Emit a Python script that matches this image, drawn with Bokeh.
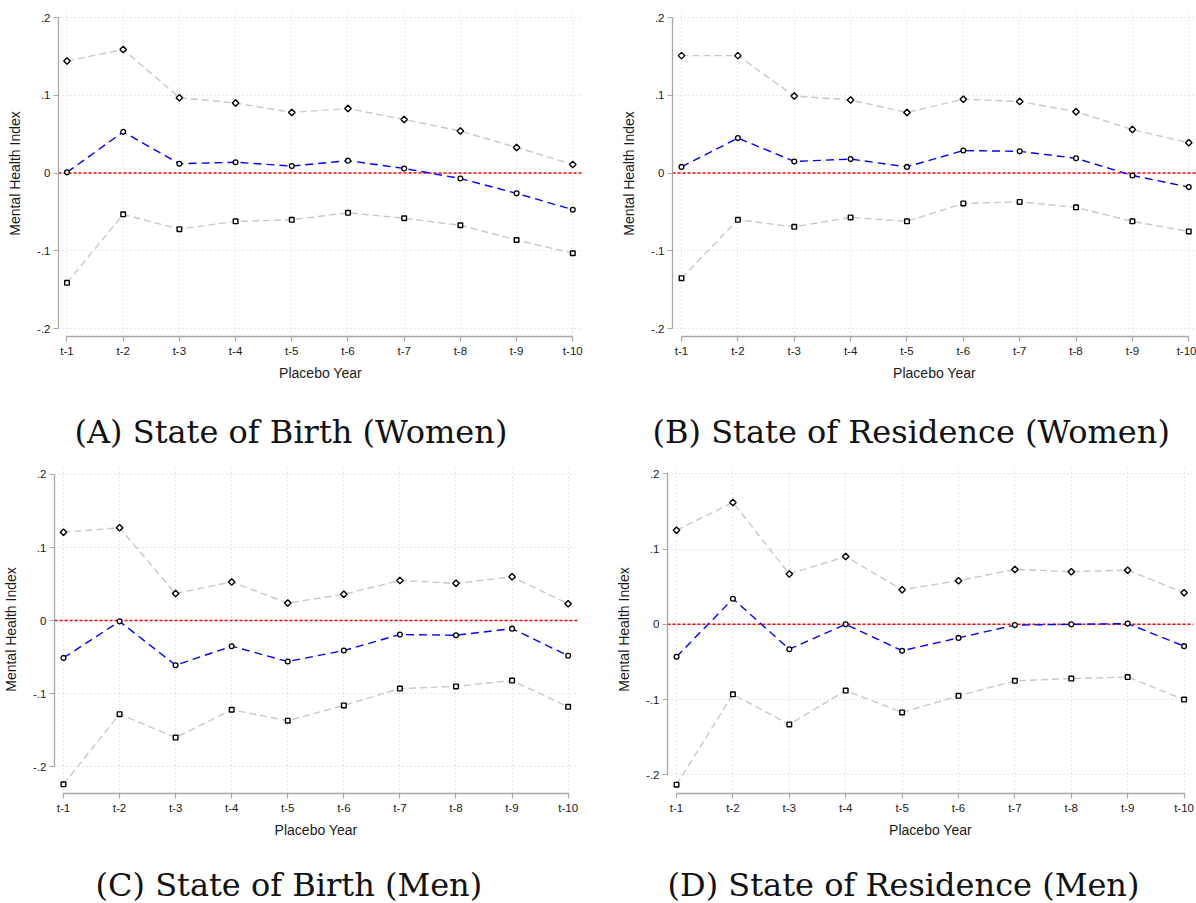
from bokeh.plotting import figure
from bokeh.layouts import column, row
from bokeh.models import Range1d, FixedTicker, Span
from bokeh.core.properties import value
from bokeh.embed import file_html
from bokeh.resources import INLINE

# ---------------- data ----------------
periods = ["t-1", "t-2", "t-3", "t-4", "t-5", "t-6", "t-7", "t-8", "t-9", "t-10"]
x_pos = [1, 2, 3, 4, 5, 6, 7, 8, 9, 10]
y_ticks = [-0.2, -0.1, 0.0, 0.1, 0.2]
y_tick_labels = ["-.2", "-.1", "0", ".1", ".2"]

# (A) State of Birth (Women)
a_upper = [0.144, 0.159, 0.097, 0.090, 0.078, 0.083, 0.069, 0.054, 0.033, 0.011]
a_point = [0.001, 0.053, 0.012, 0.014, 0.009, 0.016, 0.006, -0.007, -0.026, -0.047]
a_lower = [-0.141, -0.053, -0.072, -0.062, -0.060, -0.051, -0.058, -0.067, -0.086, -0.103]

# (B) State of Residence (Women)
b_upper = [0.151, 0.151, 0.099, 0.094, 0.078, 0.095, 0.092, 0.079, 0.056, 0.039]
b_point = [0.008, 0.045, 0.015, 0.018, 0.008, 0.029, 0.028, 0.019, -0.003, -0.018]
b_lower = [-0.135, -0.060, -0.069, -0.057, -0.062, -0.039, -0.037, -0.044, -0.062, -0.075]

# (C) State of Birth (Men)
c_upper = [0.121, 0.127, 0.037, 0.053, 0.024, 0.036, 0.055, 0.051, 0.060, 0.023]
c_point = [-0.051, -0.001, -0.061, -0.035, -0.056, -0.041, -0.019, -0.020, -0.011, -0.048]
c_lower = [-0.224, -0.128, -0.160, -0.122, -0.137, -0.116, -0.093, -0.090, -0.082, -0.118]

# (D) State of Residence (Men)
d_upper = [0.125, 0.162, 0.067, 0.090, 0.046, 0.058, 0.073, 0.070, 0.072, 0.042]
d_point = [-0.043, 0.034, -0.033, 0.000, -0.035, -0.018, -0.001, 0.000, 0.001, -0.029]
d_lower = [-0.213, -0.093, -0.133, -0.088, -0.117, -0.095, -0.075, -0.072, -0.070, -0.100]

titles = ["(A) State of Birth (Women)", "(B) State of Residence (Women)",
          "(C) State of Birth (Men)", "(D) State of Residence (Men)"]

AXIS_GRAY = "#a8a8a8"
CI_GRAY = "#c8c8c8"
SANS = "Liberation Sans"


def make_panel(upper, point, lower, xr, yr, width, height, bl, br, bt, bb):
    p = figure(width=width, height=height,
               x_range=Range1d(*xr), y_range=Range1d(*yr),
               output_backend="svg", toolbar_location=None,
               min_border_left=bl, min_border_right=br,
               min_border_top=bt, min_border_bottom=bb,
               background_fill_color="white", border_fill_color="white")
    p.outline_line_color = None

    p.xaxis.ticker = FixedTicker(ticks=x_pos)
    p.xaxis.major_label_overrides = {x: lab for x, lab in zip(x_pos, periods)}
    p.xaxis.bounds = (x_pos[0], x_pos[-1])
    p.xaxis.axis_label = "Placebo Year"
    p.yaxis.ticker = FixedTicker(ticks=y_ticks)
    p.yaxis.major_label_overrides = {y: lab for y, lab in zip(y_ticks, y_tick_labels)}
    p.yaxis.bounds = (y_ticks[0], y_ticks[-1])
    p.yaxis.axis_label = "Mental Health Index"
    for ax in (p.xaxis, p.yaxis):
        ax.axis_line_color = AXIS_GRAY
        ax.axis_line_width = 1.3
        ax.major_tick_line_color = AXIS_GRAY
        ax.major_tick_line_width = 1.2
        ax.major_tick_out = 5
        ax.major_tick_in = 0
        ax.minor_tick_line_color = None
        ax.major_label_text_font = SANS
        ax.major_label_text_font_size = "11.5px"
        ax.major_label_text_color = "#1a1a1a"
        ax.axis_label_text_font = SANS
        ax.axis_label_text_font_size = "14px"
        ax.axis_label_text_font_style = "normal"
        ax.axis_label_text_color = "#1a1a1a"
    p.xaxis.major_label_standoff = 3
    p.xaxis.axis_label_standoff = 5
    p.yaxis.major_label_standoff = 3
    p.yaxis.axis_label_standoff = 11

    p.grid.grid_line_color = "#cccccc"
    p.grid.grid_line_dash = "1 3"
    p.grid.grid_line_width = 1

    p.add_layout(Span(location=0, dimension="width", line_color="red",
                      line_dash="3 2", line_width=1.5, level="underlay"))

    p.line(x_pos, upper, line_color=CI_GRAY, line_dash="7 4", line_width=1.4)
    p.line(x_pos, lower, line_color=CI_GRAY, line_dash="7 4", line_width=1.4)
    p.line(x_pos, point, line_color="blue", line_dash="8 5", line_width=1.4)

    p.scatter(x_pos, upper, marker="square", angle=0.7853981634, size=4.6,
              fill_color="white", line_color="black", line_width=1.4)
    p.scatter(x_pos, lower, marker="square", size=4.6,
              fill_color="white", line_color="black", line_width=1.4)
    p.scatter(x_pos, point, marker="circle", size=4.8,
              fill_color="white", line_color="black", line_width=1.3)
    return p


def make_title(text, width, height, tx, ty):
    t = figure(width=width, height=height, x_range=Range1d(0, width),
               y_range=Range1d(0, height), output_backend="svg",
               toolbar_location=None, min_border=0,
               background_fill_color="white", border_fill_color="white")
    t.outline_line_color = None
    t.axis.visible = False
    t.grid.visible = False
    t.text(x=[tx], y=[ty], text=[text], text_align="left",
           text_baseline="alphabetic", text_font=value("DejaVu Serif"),
           text_font_size=value("32px"), text_color="#111111")
    return t


pA = make_panel(a_upper, a_point, a_lower, (0.849, 10.173), (-0.210, 0.209),
                600, 390, 58, 18, 10, 54)
pB = make_panel(b_upper, b_point, b_lower, (0.840, 10.137), (-0.210, 0.209),
                596, 390, 72, 0, 10, 54)
pC = make_panel(c_upper, c_point, c_lower, (0.840, 10.167), (-0.2366, 0.2123),
                600, 392, 53, 23, 10, 54)
pD = make_panel(d_upper, d_point, d_lower, (0.840, 10.167), (-0.2247, 0.211),
                596, 392, 67, 3, 10, 54)

tA = make_title(titles[0], 600, 65, 74, 24)
tB = make_title(titles[1], 596, 65, 52, 24)
tC = make_title(titles[2], 600, 56, 95, 19)
tD = make_title(titles[3], 596, 56, 67, 19)

layout = column(row(pA, pB), row(tA, tB), row(pC, pD), row(tC, tD))
open("out.html", "w").write(file_html(layout, INLINE))
